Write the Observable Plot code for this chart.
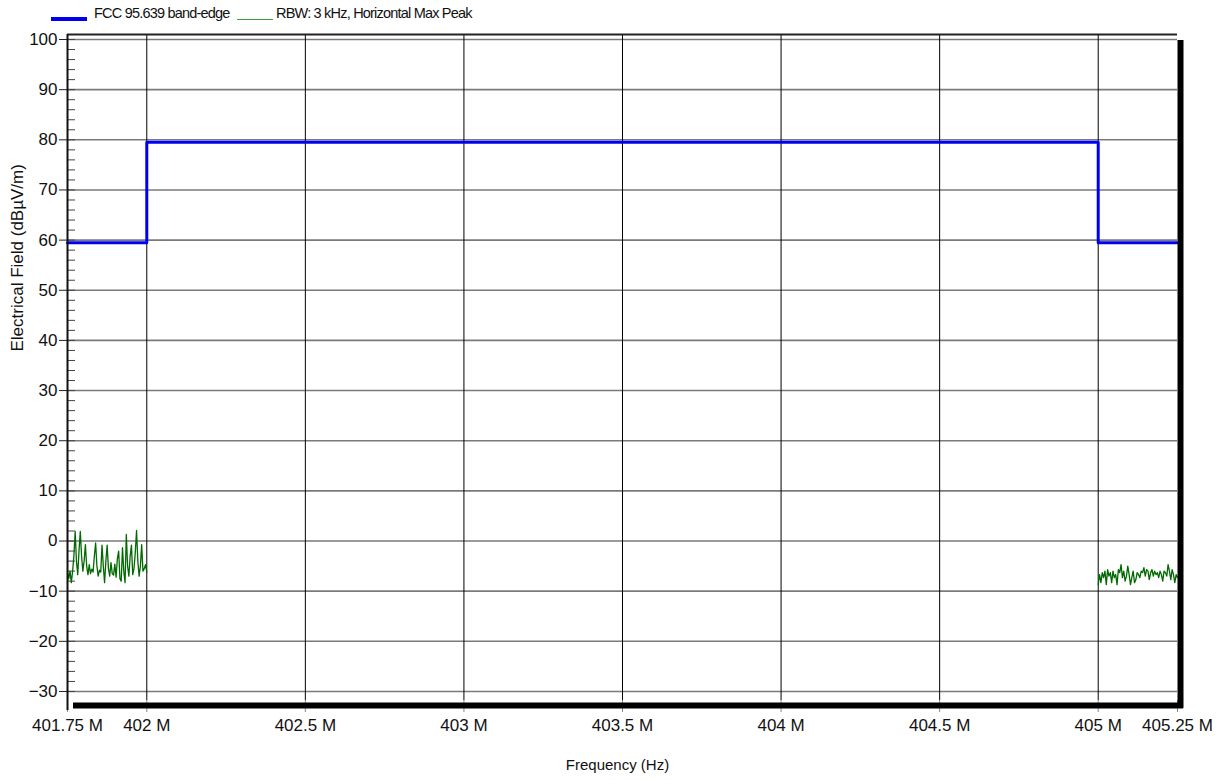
<!DOCTYPE html>
<html>
<head>
<meta charset="utf-8">
<script src="https://cdn.jsdelivr.net/npm/d3@7"></script>
<script src="https://cdn.jsdelivr.net/npm/@observablehq/plot@0.6"></script>
<style>
  html, body { margin: 0; padding: 0; background: #fff; }
  body { width: 1220px; height: 780px; overflow: hidden; font-family: "Liberation Sans", Arial, Helvetica, sans-serif; }
  #legend { position: relative; height: 28px; width: 1220px; }
  .sw { position: absolute; }
  .lt { position: absolute; font-size: 14.5px; letter-spacing: -0.8px; color: #111; top: 5px; white-space: nowrap; }
</style>
</head>
<body>
<div id="legend">
  <div class="sw" style="left:51px; top:17px; width:36px; height:4px; background:#0000f0;"></div>
  <div class="lt" style="left:94px;">FCC 95.639 band-edge</div>
  <div class="sw" style="left:237px; top:18.5px; width:36px; height:1px; background:#3f9a3f;"></div>
  <div class="lt" style="left:276px;">RBW: 3 kHz, Horizontal Max Peak</div>
</div>
<div id="chart"></div>
<script>
// ---- data ----
const xTicks = [401.75, 402, 402.5, 403, 403.5, 404, 404.5, 405, 405.25];
const xGrid = [402, 402.5, 403, 403.5, 404, 404.5, 405];
const yTicks = [-30, -20, -10, 0, 10, 20, 30, 40, 50, 60, 70, 80, 90, 100];
const yMinorTicks = d3.range(-30, 101, 2);

const limitFreq = [401.75, 402, 405, 405.25];
const limitLevel = [59.5, 79.5, 59.5, 59.5];

const leftStart = 401.75, leftEnd = 402.0;
const leftLevel = [-6.2, -7.5, -6.0, -8.3, -6.0, -3.0, 1.9, -4.0, -6.7, -2.0,
  1.9, -3.0, -6.0, -4.0, -0.7, -5.0, -6.7, -4.7, -6.5, -5.6,
  -6.2, -3.0, -0.4, -5.0, -7.0, -5.8, -6.2, -0.8, -5.0, -8.3,
  -4.0, -0.8, -5.5, -7.0, -4.3, -6.5, -6.8, -4.6, -7.2, -3.5,
  -2.0, -7.5, -8.0, -1.3, -6.0, -8.3, 1.3, -5.0, -7.0, -3.0,
  -0.8, -6.7, -5.5, -2.3, 2.1, -4.0, -7.0, -5.0, -0.7, -6.0,
  -5.5, -4.7, -6.2];

const rightStart = 405.0, rightEnd = 405.25;
const rightLevel = [-8.7, -6.7, -8.3, -6.3, -7.3, -6.0, -8.7, -5.7, -7.0, -6.3,
  -8.3, -6.0, -7.3, -6.7, -8.7, -5.7, -6.3, -4.7, -7.3, -6.0,
  -8.0, -7.0, -5.0, -6.7, -8.7, -7.3, -6.0, -8.3, -7.7, -6.3,
  -6.7, -7.3, -6.0, -6.3, -5.3, -7.0, -5.7, -6.0, -7.7, -6.3,
  -5.7, -7.0, -6.0, -6.7, -6.3, -7.3, -6.0, -6.7, -8.0, -6.0,
  -6.3, -7.0, -4.7, -6.0, -7.7, -5.7, -6.7, -8.3, -6.7, -7.3];

const xDomain = [401.75, 405.25];
const yDomain = [-31.8, 101];

// ---- build tables ----
const limit = limitFreq.map((f, i) => ({f, v: limitLevel[i]}));
const left = leftLevel.map((v, i) => ({f: leftStart + i * (leftEnd - leftStart) / (leftLevel.length - 1), v}));
const right = rightLevel.map((v, i) => ({f: rightStart + i * (rightEnd - rightStart) / (rightLevel.length - 1), v}));

const font = "'Liberation Sans', Arial, Helvetica, sans-serif";

const chart = Plot.plot({
  width: 1220,
  height: 752,
  marginLeft: 67,
  marginRight: 43,
  marginTop: 6,
  marginBottom: 80,
  style: {fontFamily: font, background: "#fff", color: "#111", overflow: "visible"},
  x: {domain: xDomain},
  y: {domain: yDomain},
  marks: [
    // grid
    Plot.ruleY(yTicks, {stroke: "#7a7a7a", strokeWidth: 1.6}),
    Plot.ruleX(xGrid, {stroke: "#000", strokeWidth: 1}),
    // x axis ticks & labels
    Plot.axisX(xTicks, {anchor: "bottom", tickSize: 12, tickPadding: 6, stroke: "#888",
      tickFormat: d => d + " M", fontSize: 17, letterSpacing: -0.5, label: null}),
    // y axis ticks & labels
    Plot.axisY(yMinorTicks, {anchor: "left", tickSize: -8, text: null, stroke: "#444", label: null}),
    Plot.axisY(yTicks, {anchor: "left", tickSize: 8, tickPadding: 2, stroke: "#222",
      fontSize: 17, letterSpacing: -0.5, label: null}),
    // data
    Plot.line(left, {x: "f", y: "v", stroke: "#006a00", strokeWidth: 1.3}),
    Plot.line(right, {x: "f", y: "v", stroke: "#006a00", strokeWidth: 1.3}),
    Plot.line(limit, {x: "f", y: "v", curve: "step-after", stroke: "#0000f0", strokeWidth: 3}),
    // frame decorations
    Plot.ruleY([yDomain[1]], {stroke: "#222", strokeWidth: 2}),
    Plot.ruleX([xDomain[0]], {stroke: "#111", strokeWidth: 2, insetBottom: -10}),
    Plot.ruleX([xDomain[1]], {stroke: "#000", strokeWidth: 6, dx: 3, insetTop: 6, insetBottom: -8}),
    Plot.ruleY([yDomain[0]], {stroke: "#000", strokeWidth: 6, dy: 5, insetLeft: 6, insetRight: -6}),
    // axis titles
    Plot.text(["Electrical Field (dBµV/m)"], {frameAnchor: "left", rotate: -90, dx: -50, dy: -16,
      fontSize: 17, fill: "#111"}),
    Plot.text(["Frequency (Hz)"], {frameAnchor: "bottom", dy: 69, dx: -5, fontSize: 15, letterSpacing: -0.3, fill: "#111"})
  ]
});
document.getElementById("chart").appendChild(chart);
</script>
</body>
</html>
